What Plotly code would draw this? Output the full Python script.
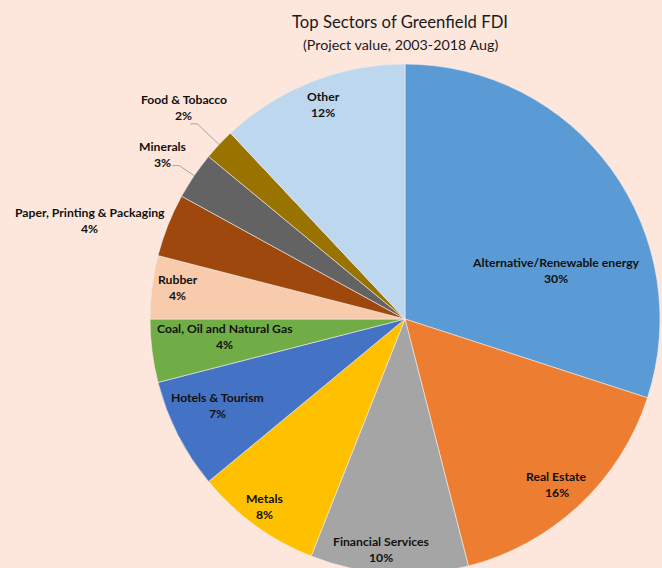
import math
import plotly.graph_objects as go

# Sector shares of greenfield FDI project value (percent), clockwise from 12 o'clock
sectors = [
    "Alternative/Renewable energy",
    "Real Estate",
    "Financial Services",
    "Metals",
    "Hotels & Tourism",
    "Coal, Oil and Natural Gas",
    "Rubber",
    "Paper, Printing & Packaging",
    "Minerals",
    "Food & Tobacco",
    "Other",
]
shares = [30, 16, 10, 8, 7, 4, 4, 4, 3, 2, 12]

colors = [
    "#5B9BD5", "#ED7D31", "#A5A5A5", "#FFC000", "#4472C4", "#70AD47",
    "#F8CBAD", "#9E480E", "#636363", "#997300", "#BDD7EE",
]

# Label placement: (angle clockwise from top in degrees, distance as fraction of radius)
label_polar = [
    (72.3, 0.62), (137.5, 0.88), (185.9, 0.91), (216.9, 0.92), (245.2, 0.81),
    (264.3, 0.71), (278.0, 0.90), (287.4, 1.295), (304.2, 1.15), (313.7, 1.20),
    (339.1, 0.90),
]
# Sectors whose labels sit outside the pie with a leader line (elbow radius fraction)
leaders = {"Minerals": 1.07, "Food & Tobacco": 1.118}

W, H = 662, 574
TOP = 64
BG = "#FDE7DD"
FONT = "Lato"

dom_x = [150 / W, 660 / W]
r = (H - TOP) / 2
cx = (dom_x[0] + dom_x[1]) / 2 * W
cy = TOP + r


def to_paper(px, py):
    return px / W, (H - py) / (H - TOP)


def polar(theta_deg, frac):
    t = math.radians(theta_deg)
    return cx + r * frac * math.sin(t), cy - r * frac * math.cos(t)


fig = go.Figure(
    go.Pie(
        labels=sectors,
        values=shares,
        sort=False,
        direction="clockwise",
        rotation=0,
        marker=dict(colors=colors, line=dict(color="#F4EDEA", width=0.6)),
        textinfo="none",
        hoverinfo="label+percent",
        domain=dict(x=dom_x, y=[0, 1]),
        showlegend=False,
    )
)

annotations = []
shapes = []
total = sum(shares)
cum = 0
for name, val, (ang, frac) in zip(sectors, shares, label_polar):
    mid = (cum + val / 2) / total * 360
    cum += val
    lx, ly = polar(ang, frac)
    for txt, dy in ((name, -8), (f"{val}%", 8)):
        xp, yp = to_paper(lx, ly + dy)
        annotations.append(dict(
            x=xp, y=yp, xref="paper", yref="paper", text=f"<b>{txt}</b>",
            showarrow=False, xanchor="center", yanchor="middle",
            font=dict(family=FONT, size=12.2, color="#111111"),
        ))
    if name in leaders:
        ex, ey = polar(mid, 1.0)
        bx, by = polar(mid, leaders[name])
        hx = bx - 7
        p0, p1, p2 = to_paper(ex, ey), to_paper(bx, by), to_paper(hx, by)
        shapes.append(dict(
            type="path", xref="paper", yref="paper",
            path=f"M {p0[0]} {p0[1]} L {p1[0]} {p1[1]} L {p2[0]} {p2[1]}",
            line=dict(color="#A6A6A6", width=1),
        ))

tx, ty = to_paper(400, 22)
sx, sy = to_paper(400, 45)
annotations.append(dict(
    x=tx, y=ty, xref="paper", yref="paper", text="Top Sectors of Greenfield FDI",
    showarrow=False, xanchor="center", yanchor="middle",
    font=dict(family=FONT, size=16.7, color="#1A1A1A"),
))
annotations.append(dict(
    x=sx, y=sy, xref="paper", yref="paper", text="(Project value, 2003-2018 Aug)",
    showarrow=False, xanchor="center", yanchor="middle",
    font=dict(family=FONT, size=14.3, color="#1A1A1A"),
))

fig.update_layout(
    width=W, height=H,
    margin=dict(l=0, r=0, t=TOP, b=0),
    paper_bgcolor=BG, plot_bgcolor=BG,
    annotations=annotations, shapes=shapes,
)

fig.write_html(
    "out.html",
    post_script="document.documentElement.style.overflow='hidden';"
                "document.body.style.overflow='hidden';",
)
